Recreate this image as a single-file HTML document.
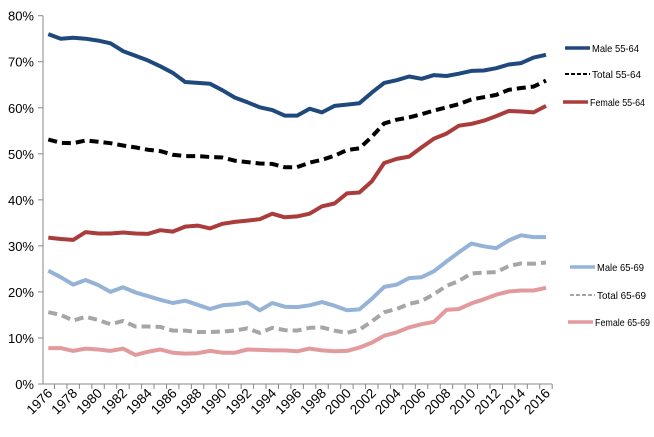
<!DOCTYPE html>
<html><head><meta charset="utf-8"><style>
body{margin:0;background:#fff;}
svg{display:block;font-family:"Liberation Sans",sans-serif;}
</style></head><body>
<svg id="chart" width="654" height="437"></svg>
<script>
const years=[];for(let y=1976;y<=2016;y++)years.push(y);
const yTicks=[0,10,20,30,40,50,60,70,80];
const male5564=[76,75,75.2,75,74.6,74,72.3,71.3,70.3,69,67.6,65.6,65.4,65.2,63.8,62.2,61.2,60.1,59.5,58.3,58.3,59.8,59,60.4,60.7,61,63.3,65.4,66,66.8,66.3,67.1,66.9,67.4,68,68.1,68.6,69.4,69.7,70.9,71.5];
const total5564=[53.1,52.4,52.3,52.9,52.6,52.3,51.8,51.4,50.9,50.6,49.8,49.5,49.5,49.3,49.2,48.5,48.2,47.9,47.8,47.1,47.1,48.1,48.7,49.6,50.8,51.2,53.7,56.6,57.4,57.9,58.6,59.4,60.1,60.8,61.8,62.3,62.8,63.9,64.3,64.6,65.9];
const female5564=[31.8,31.5,31.3,33,32.7,32.7,32.9,32.7,32.6,33.4,33.1,34.2,34.4,33.8,34.8,35.2,35.5,35.8,37,36.2,36.4,37,38.6,39.2,41.4,41.6,44,48,48.9,49.4,51.4,53.3,54.4,56.1,56.5,57.2,58.2,59.3,59.2,59,60.4];
const male6569=[24.6,23.2,21.6,22.6,21.5,20,21,19.9,19.1,18.3,17.6,18.1,17.2,16.3,17.1,17.3,17.7,16,17.6,16.8,16.7,17.1,17.8,17,16,16.2,18.5,21.1,21.6,23,23.2,24.5,26.6,28.6,30.5,29.9,29.5,31.2,32.3,31.9,31.9];
const total6569=[15.6,15,13.8,14.6,13.9,13,13.7,12.5,12.5,12.4,11.6,11.6,11.3,11.3,11.4,11.6,12.1,11.1,12.2,11.7,11.6,12.2,12.3,11.6,11.1,11.8,13.6,15.6,16.3,17.4,18,19.5,21.3,22.4,24,24.2,24.3,25.6,26.2,26.1,26.4];
const female6569=[7.8,7.8,7.2,7.7,7.5,7.2,7.7,6.3,7,7.5,6.8,6.6,6.7,7.2,6.8,6.8,7.5,7.4,7.3,7.3,7.1,7.7,7.3,7.1,7.2,7.9,9,10.5,11.2,12.3,13,13.5,16.1,16.3,17.5,18.4,19.4,20.1,20.3,20.3,20.9];
const seriesNames=["Male 55-64","Total 55-64","Female 55-64","Male 65-69","Total 65-69","Female 65-69"];

const NS="http://www.w3.org/2000/svg";
const svg=document.getElementById('chart');
const x0=48.3,x1=546,yBase=384,yTop=15.7;
const xs=y=>x0+(y-1976)*(x1-x0)/40;
const ys=v=>yBase-v*(yBase-yTop)/80;
function mk(t,a){const e=document.createElementNS(NS,t);for(const k in a)e.setAttribute(k,a[k]);svg.appendChild(e);return e;}

let ax=mk('line',{x1:43,y1:yTop,x2:43,y2:yBase,stroke:'#888','stroke-width':1});


let bx=mk('line',{x1:43,y1:yBase,x2:x1+6,y2:yBase,stroke:'#888','stroke-width':1});


yTicks.forEach(v=>{
  mk('line',{x1:38,y1:ys(v),x2:43,y2:ys(v),stroke:'#888'});
  const t=mk('text',{x:34,y:ys(v)+5,'text-anchor':'end','font-size':13,fill:'#000'});
  t.textContent=v+'%';
  
  
});
years.forEach((y,i)=>{
  const x=xs(y)+6.2;
  mk('line',{x1:x,y1:yBase,x2:x,y2:yBase+5,stroke:'#888'});
  if(i%2===0){
    const t=mk('text',{x:xs(y)+5,y:yBase+10,'text-anchor':'end','font-size':13.5,fill:'#000',transform:`rotate(-45 ${xs(y)+5} ${yBase+10})`});
    t.textContent=y;
    
    
  }
});
const data=[male5564,total5564,female5564,male6569,total6569,female6569];
const colors=['#1f497d','#000000','#ab3c3c','#95b3d7','#a6a6a6','#e39a9c'];
const dashed=[false,true,false,false,true,false];
const legY=[48,74,102,267,295,322];
const legX=[565,565,563,570,570,568];
const legW=[47,49,55,47,49,55];
data.forEach((arr,si)=>{
  const d=arr.map((v,i)=>(i?'L':'M')+xs(years[i]).toFixed(1)+' '+ys(v).toFixed(1)).join(' ');
  const p=mk('path',{d,fill:'none',stroke:colors[si],'stroke-width':4,'stroke-linejoin':'round','stroke-dasharray':dashed[si]?'9 5':'none'});
  
  
  const l=mk('line',{x1:legX[si],y1:legY[si],x2:legX[si]+25,y2:legY[si],stroke:colors[si],'stroke-width':dashed[si]?2:3.5,'stroke-dasharray':dashed[si]?'4 2':'none'});
  
  
  const t=mk('text',{x:legX[si]+27,y:legY[si]+4,'font-size':10.5,fill:'#000',textLength:legW[si],lengthAdjust:'spacingAndGlyphs'});
  t.textContent=seriesNames[si];
  
  
});
</script>
</body></html>
